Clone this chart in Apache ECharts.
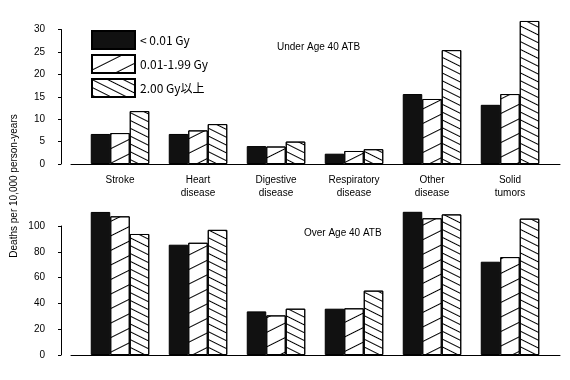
<!DOCTYPE html>
<html><head><meta charset="utf-8">
<script src="https://cdn.jsdelivr.net/npm/echarts@6/dist/echarts.min.js"></script>
<style>html,body{margin:0;padding:0;background:#fff}#c{width:570px;height:380px}</style>
</head><body><div id="c"></div>
<script>
var categories = ['Stroke', 'Heart\ndisease', 'Digestive\ndisease', 'Respiratory\ndisease', 'Other\ndisease', 'Solid\ntumors'];
var seriesNames = ['< 0.01 Gy', '0.01-1.99 Gy', '2.00 Gy以上'];
var under40_low = [6.7, 6.7, 4.0, 2.3, 15.6, 13.2];
var under40_mid = [6.9, 7.5, 3.9, 2.9, 14.5, 15.6];
var under40_high = [11.8, 8.9, 5.0, 3.3, 25.4, 31.9];
var over40_low = [110.9, 85.5, 33.8, 35.9, 111, 72.3];
var over40_mid = [107.5, 87, 30.7, 36.2, 106, 75.9];
var over40_high = [93.8, 97, 35.9, 49.9, 109, 105.7];
var topTicks = {min: 0, max: 30, interval: 5};
var bottomTicks = {min: 0, max: 100, interval: 20};

var chart = echarts.init(document.getElementById('c'), null, {renderer: 'canvas'});
var FONT = 'Liberation Sans';
var styles = [
  {color: '#111', borderColor: '#000', borderWidth: 1},
  {color: '#fff', borderColor: '#000', borderWidth: 1,
   decal: {symbol: 'rect', color: '#000', dashArrayX: [[1, 0]], dashArrayY: [1, 11.5], rotation: -Math.atan(0.5), symbolSize: 1}},
  {color: '#fff', borderColor: '#000', borderWidth: 1,
   decal: {symbol: 'rect', color: '#000', dashArrayX: [[1, 0]], dashArrayY: [1, 5.3], rotation: Math.atan(0.5), symbolSize: 1}}
];
function mkSeries(data, idx, gi) {
  return {type: 'bar', name: seriesNames[idx], xAxisIndex: gi, yAxisIndex: gi, data: data,
    barWidth: 19.5, barGap: '0%', clip: false, itemStyle: styles[idx], emphasis: {disabled: true}};
}
var gridTop = {top: 29.5, height: 134.5};
var gridBot = {top: 226, height: 129};
var option = {
  animation: false,
  backgroundColor: '#fff',
  textStyle: {fontFamily: FONT},
  grid: [
    {left: 81, right: 21, top: gridTop.top, height: gridTop.height},
    {left: 71, right: 10, top: gridTop.top, height: gridTop.height},
    {left: 81, right: 21, top: gridBot.top, height: gridBot.height},
    {left: 71, right: 10, top: gridBot.top, height: gridBot.height}
  ],
  xAxis: [
    {gridIndex: 0, type: 'category', data: categories, axisLine: {show: false}, axisTick: {show: false},
     axisLabel: {color: '#000', fontSize: 10, fontFamily: FONT, margin: 10, lineHeight: 13}},
    {gridIndex: 1, type: 'value', min: 0, max: 1, axisLine: {show: true, lineStyle: {color: '#000', width: 1}},
     axisTick: {show: false}, axisLabel: {show: false}, splitLine: {show: false}},
    {gridIndex: 2, type: 'category', data: categories, axisLine: {show: false}, axisTick: {show: false}, axisLabel: {show: false}},
    {gridIndex: 3, type: 'value', min: 0, max: 1, axisLine: {show: true, lineStyle: {color: '#000', width: 1}},
     axisTick: {show: false}, axisLabel: {show: false}, splitLine: {show: false}}
  ],
  yAxis: [
    {gridIndex: 0, type: 'value', min: topTicks.min, max: topTicks.max, interval: topTicks.interval, offset: 20,
     axisLine: {show: true, lineStyle: {color: '#000'}}, axisTick: {show: true, length: 3, lineStyle: {color: '#000'}},
     axisLabel: {color: '#000', fontSize: 10, fontFamily: FONT, margin: 16}, splitLine: {show: false}},
    {gridIndex: 1, type: 'value', show: false},
    {gridIndex: 2, type: 'value', min: bottomTicks.min, max: bottomTicks.max, interval: bottomTicks.interval, offset: 20,
     axisLine: {show: true, lineStyle: {color: '#000'}}, axisTick: {show: true, length: 3, lineStyle: {color: '#000'}},
     axisLabel: {color: '#000', fontSize: 10, fontFamily: FONT, margin: 16}, splitLine: {show: false}},
    {gridIndex: 3, type: 'value', show: false}
  ],
  legend: {
    orient: 'vertical', left: 86, top: 25, itemWidth: 43, itemHeight: 18, itemGap: 4, icon: 'rect',
    data: seriesNames, selectedMode: false,
    textStyle: {fontFamily: 'Noto Sans CJK JP', fontSize: 12, color: '#000'}
  },
  series: [
    mkSeries(under40_low, 0, 0), mkSeries(under40_mid, 1, 0), mkSeries(under40_high, 2, 0),
    mkSeries(over40_low, 0, 2), mkSeries(over40_mid, 1, 2), mkSeries(over40_high, 2, 2)
  ],
  graphic: [
    {type: 'text', left: 277, top: 42, style: {text: 'Under Age 40 ATB', font: '10px "Liberation Sans"', fill: '#000'}},
    {type: 'text', left: 304, top: 228, style: {text: 'Over Age 40 ATB', font: '10px "Liberation Sans"', fill: '#000'}},
    {type: 'text', x: 14, y: 186, rotation: Math.PI / 2, style: {text: 'Deaths per 10,000 person-years', font: '10px "Liberation Sans"', fill: '#000', align: 'center', verticalAlign: 'middle'}}
  ]
};
chart.setOption(option);
</script></body></html>
